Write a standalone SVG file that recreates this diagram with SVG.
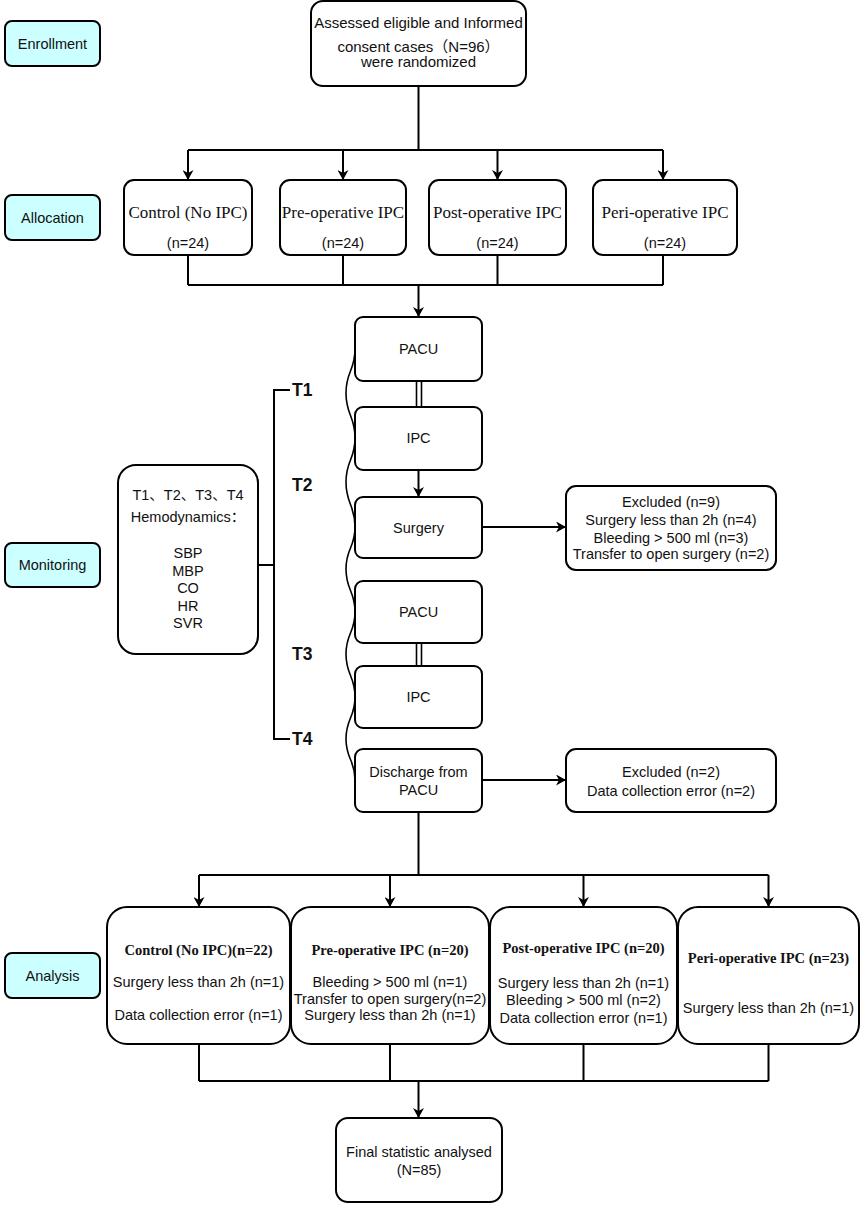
<svg xmlns="http://www.w3.org/2000/svg" width="864" height="1205" viewBox="0 0 864 1205">
<defs>
<marker id="arr" viewBox="0 0 10 11" refX="10" refY="5.5" markerWidth="10" markerHeight="11" markerUnits="userSpaceOnUse" orient="auto">
<path d="M0,0 L10,5.5 L0,11 L3,5.5 z" fill="#000"/>
</marker>
<style>
.box{fill:#fff;stroke:#000;stroke-width:2}
.lbl{fill:#ccffff;stroke:#000;stroke-width:2}
.ln{fill:none;stroke:#000;stroke-width:2}
.ar{fill:none;stroke:#000;stroke-width:2;marker-end:url(#arr)}
.s{font-family:"Liberation Sans",Arial,"Noto Sans CJK SC",sans-serif;font-size:14.5px;fill:#111;text-anchor:middle}
.r{font-family:"Liberation Serif","Times New Roman",serif;font-size:17px;fill:#111;text-anchor:middle}
.rb{font-family:"Liberation Serif","Times New Roman",serif;font-size:14.5px;font-weight:bold;fill:#111;text-anchor:middle}
.t{font-family:"Liberation Sans",Arial,sans-serif;font-size:17.5px;font-weight:bold;fill:#111}
</style>
</defs>
<rect width="864" height="1205" fill="#fff"/>

<g id="connectors">
<path class="ln" d="M418.5,86 V150 M188,150 H663"/>
<path class="ar" d="M188,150 V180"/>
<path class="ar" d="M343,150 V180"/>
<path class="ar" d="M497.5,150 V180"/>
<path class="ar" d="M663,150 V180"/>
<path class="ln" d="M188,255 V285 M343,255 V285 M497.5,255 V285 M663,255 V285 M188,285 H663"/>
<path class="ar" d="M418.5,285 V317"/>
<path class="ln" style="stroke-width:1.6" d="M416.5,381 V407 M421.5,381 V407 M416.5,643 V666 M421.5,643 V666"/>
<path class="ar" d="M418.5,470 V497"/>
<path class="ar" d="M482,527 H566"/>
<path class="ar" d="M482,780 H566"/>
<path class="ln" d="M290,390 H274 V739 H290 M258,565 H274"/>
<path class="ln" style="stroke-width:1.6" d="M355,349 C355,371 346,371 346,393 C346,415.5 355,415.5 355,438 C355,460 346,460 346,482 C346,504.5 355,504.5 355,527 C355,548 346,548 346,569 C346,590.5 355,590.5 355,612 C355,633 346,633 346,654 C346,675.5 355,675.5 355,697 C355,718 346,718 346,739 C346,759.5 355,759.5 355,780"/>
<path class="ln" d="M418.5,812 V875 M199,875 H768.5"/>
<path class="ar" d="M199,875 V907"/>
<path class="ar" d="M390,875 V907"/>
<path class="ar" d="M583.5,875 V907"/>
<path class="ar" d="M768.5,875 V907"/>
<path class="ln" d="M199,1044 V1081 M390,1044 V1081 M583.5,1044 V1081 M768.5,1044 V1081 M199,1081 H768.5"/>
<path class="ar" d="M418.5,1081 V1118"/>
</g>

<g id="label-enrollment"><rect class="lbl" x="5" y="21" width="95" height="45" rx="7"/><text class="s" x="52.5" y="48.5">Enrollment</text></g>
<g id="label-allocation"><rect class="lbl" x="5" y="195" width="95" height="45" rx="7"/><text class="s" x="52.5" y="222.5">Allocation</text></g>
<g id="label-monitoring"><rect class="lbl" x="5" y="543" width="95" height="44" rx="7"/><text class="s" x="52.5" y="570">Monitoring</text></g>
<g id="label-analysis"><rect class="lbl" x="5" y="953" width="95" height="45" rx="7"/><text class="s" x="52.5" y="980.5">Analysis</text></g>

<g id="node-enrolled"><rect class="box" x="311" y="1" width="215" height="85" rx="12"/>
<text class="s" x="418.5" y="28" style="font-size:15px">Assessed eligible and Informed</text>
<text class="s" x="418.5" y="52" style="font-size:15px">consent cases（N=96）</text>
<text class="s" x="418.5" y="67" style="font-size:15px">were randomized</text></g>

<g id="node-control"><rect class="box" x="124" y="180" width="128" height="75" rx="10"/><text class="r" x="188" y="218">Control (No IPC)</text><text class="s" x="188" y="248">(n=24)</text></g>
<g id="node-pre"><rect class="box" x="280" y="180" width="126" height="75" rx="10"/><text class="r" x="343" y="218">Pre-operative IPC</text><text class="s" x="343" y="248">(n=24)</text></g>
<g id="node-post"><rect class="box" x="429" y="180" width="137" height="75" rx="10"/><text class="r" x="497.5" y="218">Post-operative IPC</text><text class="s" x="497.5" y="248">(n=24)</text></g>
<g id="node-peri"><rect class="box" x="593" y="180" width="144" height="75" rx="10"/><text class="r" x="665" y="218">Peri-operative IPC</text><text class="s" x="665" y="248">(n=24)</text></g>

<g id="node-pacu1"><rect class="box" x="355" y="317" width="127" height="64" rx="8"/><text class="s" x="418.5" y="354">PACU</text></g>
<g id="node-ipc1"><rect class="box" x="355" y="407" width="127" height="63" rx="8"/><text class="s" x="418.5" y="443">IPC</text></g>
<g id="node-surgery"><rect class="box" x="355" y="497" width="127" height="61" rx="8"/><text class="s" x="418.5" y="532.5">Surgery</text></g>
<g id="node-pacu2"><rect class="box" x="355" y="581" width="127" height="62" rx="8"/><text class="s" x="418.5" y="617">PACU</text></g>
<g id="node-ipc2"><rect class="box" x="355" y="666" width="127" height="62" rx="8"/><text class="s" x="418.5" y="702">IPC</text></g>
<g id="node-discharge"><rect class="box" x="355" y="749" width="127" height="63" rx="8"/><text class="s" x="418.5" y="777">Discharge from</text><text class="s" x="418.5" y="795">PACU</text></g>

<g id="node-excluded1"><rect class="box" x="566" y="486" width="210" height="84" rx="10"/>
<text class="s" x="671" y="507">Excluded (n=9)</text>
<text class="s" x="671" y="525">Surgery less than 2h (n=4)</text>
<text class="s" x="671" y="543">Bleeding &gt; 500 ml (n=3)</text>
<text class="s" x="671" y="559">Transfer to open surgery (n=2)</text></g>
<g id="node-excluded2"><rect class="box" x="566" y="749" width="210" height="63" rx="10"/>
<text class="s" x="671" y="777">Excluded (n=2)</text>
<text class="s" x="671" y="796">Data collection error (n=2)</text></g>

<g id="node-hemodynamics"><rect class="box" x="118" y="465" width="140" height="189" rx="18"/>
<text class="s" x="188" y="500">T1、T2、T3、T4</text>
<text class="s" x="188" y="522">Hemodynamics：</text>
<text class="s" x="188" y="558">SBP</text>
<text class="s" x="188" y="576">MBP</text>
<text class="s" x="188" y="593">CO</text>
<text class="s" x="188" y="611">HR</text>
<text class="s" x="188" y="628">SVR</text></g>

<g id="time-labels">
<text class="t" x="292" y="396">T1</text>
<text class="t" x="292" y="491">T2</text>
<text class="t" x="292" y="660">T3</text>
<text class="t" x="292" y="745">T4</text></g>

<g id="node-a-control"><rect class="box" x="107" y="907" width="183" height="137" rx="20"/>
<text class="rb" x="198.5" y="955">Control (No IPC)(n=22)</text>
<text class="s" x="198.5" y="987">Surgery less than 2h (n=1)</text>
<text class="s" x="198.5" y="1020">Data collection error (n=1)</text></g>
<g id="node-a-pre"><rect class="box" x="291" y="907" width="198" height="137" rx="20"/>
<text class="rb" x="390" y="955">Pre-operative IPC (n=20)</text>
<text class="s" x="390" y="987">Bleeding &gt; 500 ml (n=1)</text>
<text class="s" x="390" y="1003.5">Transfer to open surgery(n=2)</text>
<text class="s" x="390" y="1020">Surgery less than 2h (n=1)</text></g>
<g id="node-a-post"><rect class="box" x="490" y="907" width="187" height="137" rx="20"/>
<text class="rb" x="583.5" y="953">Post-operative IPC (n=20)</text>
<text class="s" x="583.5" y="988">Surgery less than 2h (n=1)</text>
<text class="s" x="583.5" y="1005">Bleeding &gt; 500 ml (n=2)</text>
<text class="s" x="583.5" y="1023">Data collection error (n=1)</text></g>
<g id="node-a-peri"><rect class="box" x="678" y="907" width="181" height="137" rx="20"/>
<text class="rb" x="768.5" y="963">Peri-operative IPC (n=23)</text>
<text class="s" x="768.5" y="1013">Surgery less than 2h (n=1)</text></g>

<g id="node-final"><rect class="box" x="336" y="1118" width="166" height="84" rx="12"/>
<text class="s" x="419" y="1157">Final statistic analysed</text>
<text class="s" x="419" y="1175">(N=85)</text></g>
</svg>
